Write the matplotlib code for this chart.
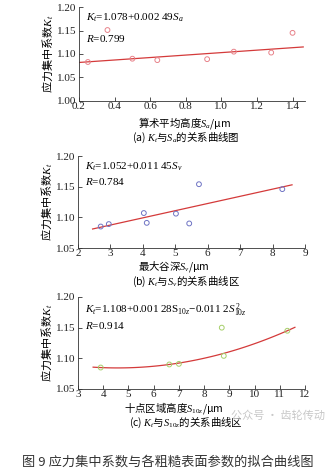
import matplotlib.pyplot as plt
import numpy as np

plt.rcParams['font.family'] = ['Liberation Serif', 'Noto Sans CJK SC']
plt.rcParams['mathtext.fontset'] = 'custom'
plt.rcParams['mathtext.rm'] = 'Liberation Serif'
plt.rcParams['mathtext.it'] = 'Liberation Serif:italic'
plt.rcParams['mathtext.default'] = 'it'

CJK = ['Noto Sans CJK SC']

# (a) Kt vs Sa
sa_x = [0.25, 0.36, 0.50, 0.64, 0.92, 1.07, 1.28, 1.40]
sa_y = [1.083, 1.151, 1.090, 1.087, 1.089, 1.105, 1.103, 1.145]
sa_fit_x = [0.2, 1.46]
sa_fit_y = [1.082, 1.115]

# (b) Kt vs Sv
sv_x = [2.70, 2.95, 4.03, 4.12, 5.02, 5.43, 5.73, 8.30]
sv_y = [1.085, 1.089, 1.107, 1.091, 1.106, 1.090, 1.154, 1.146]
sv_fit_x = [2.45, 8.6]
sv_fit_y = [1.081, 1.153]

# (c) Kt vs S10z
sz_x = [3.90, 6.62, 7.00, 8.70, 8.78, 11.30]
sz_y = [1.085, 1.090, 1.091, 1.150, 1.104, 1.145]
sz_curve_x = [3.6, 5.0, 6.5, 8.0, 9.5, 11.0, 11.6]
sz_curve_y = [1.086, 1.084, 1.089, 1.101, 1.117, 1.139, 1.151]

fig = plt.figure(figsize=(3.35, 4.73), dpi=100)
W, H = 335, 473
fs = 8
fs_lab = 7.5


def make_ax(left, top, right, bottom):
    return fig.add_axes([left / W, 1 - bottom / H, (right - left) / W, (bottom - top) / H])


def style(ax):
    ax.spines['top'].set_visible(False)
    ax.spines['right'].set_visible(False)
    for s in ['left', 'bottom']:
        ax.spines[s].set_linewidth(0.6)
        ax.spines[s].set_color('#333333')
    ax.tick_params(direction='in', length=3, width=0.6, labelsize=8, pad=1,
                   colors='#333333', labelcolor='#222222')
    ax.tick_params(axis='y', pad=2)
    ax.set_ylabel('应力集中系数$K_t$', fontsize=fs, labelpad=1, family=CJK)


def under(y, s, x=0.555):
    fig.text(x, 1 - y / H, s, ha='center', va='center', fontsize=fs_lab, family=CJK)


# panel a
ax1 = make_ax(79, 7, 305, 101)
ax1.plot(sa_fit_x, sa_fit_y, color='#d43a3a', lw=0.9)
ax1.scatter(sa_x, sa_y, s=12, facecolors='none', edgecolors='#e8828a', linewidths=0.7, zorder=3)
ax1.set_xlim(0.2, 1.47)
ax1.set_ylim(1.00, 1.20)
ax1.set_xticks([0.2, 0.4, 0.6, 0.8, 1.0, 1.2, 1.4])
ax1.set_yticks([1.00, 1.05, 1.10, 1.15, 1.20])
ax1.xaxis.set_major_formatter(plt.FormatStrFormatter('%.1f'))
ax1.yaxis.set_major_formatter(plt.FormatStrFormatter('%.2f'))
style(ax1)
ax1.text(0.03, 0.95, '$K_t$=1.078+0.002 49$S_a$', transform=ax1.transAxes, fontsize=fs, va='top')
ax1.text(0.03, 0.72, '$R$=0.799', transform=ax1.transAxes, fontsize=fs, va='top')
under(123, '算术平均高度$S_a$/μm', 0.55)
under(138, '(a) $K_t$与$S_a$的关系曲线图')

# panel b
ax2 = make_ax(78, 156, 305, 248)
ax2.plot(sv_fit_x, sv_fit_y, color='#d43a3a', lw=0.9)
ax2.scatter(sv_x, sv_y, s=12, facecolors='none', edgecolors='#6f74c4', linewidths=0.7, zorder=3)
ax2.set_xlim(2, 9)
ax2.set_ylim(1.05, 1.20)
ax2.set_xticks(range(2, 10))
ax2.set_yticks([1.05, 1.10, 1.15, 1.20])
ax2.yaxis.set_major_formatter(plt.FormatStrFormatter('%.2f'))
style(ax2)
ax2.text(0.03, 0.95, '$K_t$=1.052+0.011 45$S_v$', transform=ax2.transAxes, fontsize=fs, va='top')
ax2.text(0.03, 0.78, '$R$=0.784', transform=ax2.transAxes, fontsize=fs, va='top')
under(267, '最大谷深$S_v$/μm', 0.52)
under(282, '(b) $K_t$与$S_v$的关系曲线区')

# panel c
ax3 = make_ax(78, 297, 305, 389)
coef = np.polyfit(sz_curve_x, sz_curve_y, 2)
xs = np.linspace(sz_curve_x[0], sz_curve_x[-1], 100)
ax3.plot(xs, np.polyval(coef, xs), color='#d43a3a', lw=0.9)
ax3.scatter(sz_x, sz_y, s=12, facecolors='none', edgecolors='#a6cf6a', linewidths=0.7, zorder=3)
ax3.set_xlim(3, 12)
ax3.set_ylim(1.05, 1.20)
ax3.set_xticks(range(3, 13))
ax3.set_yticks([1.05, 1.10, 1.15, 1.20])
ax3.yaxis.set_major_formatter(plt.FormatStrFormatter('%.2f'))
style(ax3)
ax3.text(0.03, 0.95, '$K_t$=1.108+0.001 28$\\mathrm{S}_{10z}$−0.011 2$S_{10z}^{\\,2}$',
         transform=ax3.transAxes, fontsize=fs, va='top')
ax3.text(0.03, 0.75, '$R$=0.914', transform=ax3.transAxes, fontsize=fs, va='top')
under(408, '十点区域高度$S_{10z}$/μm', 0.52)
under(423, '(c) $K_t$与$S_{10z}$的关系曲线区')

# watermark
fig.text(0.83, 1 - 416 / H, '公众号 · 齿轮传动', ha='center', va='center', fontsize=8,
         color='#c8c8c8', family=['Noto Sans CJK SC', 'DejaVu Sans'])

fig.text(0.5, 1 - 462 / H, '图 9 应力集中系数与各粗糙表面参数的拟合曲线图', ha='center', va='center',
         fontsize=9.5, color='#333333', family=['Noto Sans CJK SC', 'DejaVu Sans'])

fig.savefig('out.png', dpi=100)
